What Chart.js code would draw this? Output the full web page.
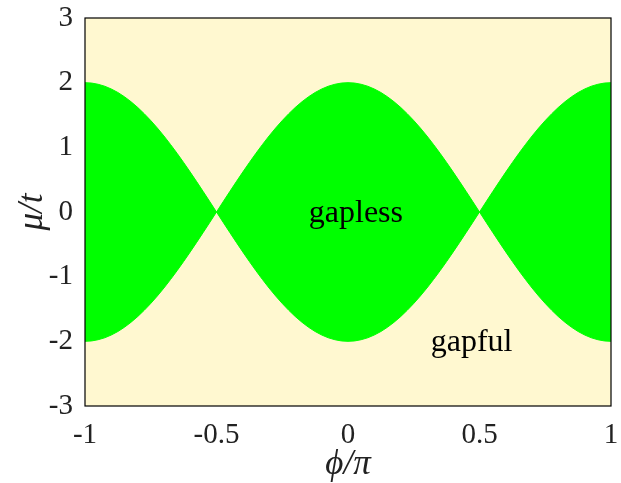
<!DOCTYPE html>
<html>
<head>
<meta charset="utf-8">
<script src="https://cdn.jsdelivr.net/npm/chart.js@4.4.1/dist/chart.umd.min.js"></script>
<style>
  html, body { margin: 0; padding: 0; background: #fff; }
  #wrap { width: 621px; height: 483px; }
</style>
</head>
<body>
<div id="wrap"><canvas id="c"></canvas></div>
<script>
(function () {
  'use strict';

  // phase phi/pi
  const phi = [
    -1, -0.975, -0.95, -0.925, -0.9, -0.875, -0.85, -0.825, -0.8, -0.775,
    -0.75, -0.725, -0.7, -0.675, -0.65, -0.625, -0.6, -0.575, -0.55, -0.525,
    -0.5, -0.475, -0.45, -0.425, -0.4, -0.375, -0.35, -0.325, -0.3, -0.275,
    -0.25, -0.225, -0.2, -0.175, -0.15, -0.125, -0.1, -0.075, -0.05, -0.025,
    0, 0.025, 0.05, 0.075, 0.1, 0.125, 0.15, 0.175, 0.2, 0.225,
    0.25, 0.275, 0.3, 0.325, 0.35, 0.375, 0.4, 0.425, 0.45, 0.475,
    0.5, 0.525, 0.55, 0.575, 0.6, 0.625, 0.65, 0.675, 0.7, 0.725,
    0.75, 0.775, 0.8, 0.825, 0.85, 0.875, 0.9, 0.925, 0.95, 0.975, 1
  ];
  // upper edge of the gapless band (mu/t)
  const muUpper = [
    2, 1.994, 1.975, 1.945, 1.902, 1.848, 1.782, 1.705, 1.618, 1.521,
    1.414, 1.299, 1.176, 1.045, 0.908, 0.765, 0.618, 0.467, 0.313, 0.157,
    0, 0.157, 0.313, 0.467, 0.618, 0.765, 0.908, 1.045, 1.176, 1.299,
    1.414, 1.521, 1.618, 1.705, 1.782, 1.848, 1.902, 1.945, 1.975, 1.994,
    2, 1.994, 1.975, 1.945, 1.902, 1.848, 1.782, 1.705, 1.618, 1.521,
    1.414, 1.299, 1.176, 1.045, 0.908, 0.765, 0.618, 0.467, 0.313, 0.157,
    0, 0.157, 0.313, 0.467, 0.618, 0.765, 0.908, 1.045, 1.176, 1.299,
    1.414, 1.521, 1.618, 1.705, 1.782, 1.848, 1.902, 1.945, 1.975, 1.994, 2
  ];
  // lower edge of the gapless band (mu/t)
  const muLower = [
    -2, -1.994, -1.975, -1.945, -1.902, -1.848, -1.782, -1.705, -1.618, -1.521,
    -1.414, -1.299, -1.176, -1.045, -0.908, -0.765, -0.618, -0.467, -0.313, -0.157,
    0, -0.157, -0.313, -0.467, -0.618, -0.765, -0.908, -1.045, -1.176, -1.299,
    -1.414, -1.521, -1.618, -1.705, -1.782, -1.848, -1.902, -1.945, -1.975, -1.994,
    -2, -1.994, -1.975, -1.945, -1.902, -1.848, -1.782, -1.705, -1.618, -1.521,
    -1.414, -1.299, -1.176, -1.045, -0.908, -0.765, -0.618, -0.467, -0.313, -0.157,
    0, -0.157, -0.313, -0.467, -0.618, -0.765, -0.908, -1.045, -1.176, -1.299,
    -1.414, -1.521, -1.618, -1.705, -1.782, -1.848, -1.902, -1.945, -1.975, -1.994, -2
  ];

  const xTicks = [-1, -0.5, 0, 0.5, 1];
  const yTicks = [-3, -2, -1, 0, 1, 2, 3];

  // region labels: [text, phi, mu]
  const regionLabels = [
    ['gapless', 0.03, -0.03],
    ['gapful', 0.47, -2.02]
  ];

  const GREEN = '#00ff00';
  const BG    = '#fff8d0';
  const SERIF = '"Liberation Serif", "Times New Roman", serif';

  function pts(ys) {
    return phi.map(function (x, i) { return { x: x, y: ys[i] }; });
  }

  const framePlugin = {
    id: 'frame',
    beforeDatasetsDraw: function (chart) {
      const a = chart.chartArea, ctx = chart.ctx;
      ctx.save();
      ctx.fillStyle = BG;
      ctx.fillRect(a.left, a.top, a.right - a.left, a.bottom - a.top);
      ctx.restore();
    },
    afterDatasetsDraw: function (chart) {
      const a = chart.chartArea, ctx = chart.ctx;
      const xs = chart.scales.x, ys = chart.scales.y;
      ctx.save();
      ctx.font = '32px ' + SERIF;
      ctx.fillStyle = '#000';
      ctx.textAlign = 'center';
      ctx.textBaseline = 'middle';
      regionLabels.forEach(function (l) {
        ctx.fillText(l[0], xs.getPixelForValue(l[1]), ys.getPixelForValue(l[2]));
      });
      ctx.strokeStyle = '#000';
      ctx.lineWidth = 1.2;
      ctx.strokeRect(a.left, a.top, a.right - a.left, a.bottom - a.top);
      ctx.restore();
    }
  };

  new Chart(document.getElementById('c'), {
    type: 'line',
    data: {
      datasets: [{
        data: pts(muUpper),
        borderColor: GREEN,
        backgroundColor: GREEN,
        borderWidth: 1,
        pointRadius: 0,
        fill: '+1'
      }, {
        data: pts(muLower),
        borderColor: GREEN,
        backgroundColor: GREEN,
        borderWidth: 1,
        pointRadius: 0,
        fill: false
      }]
    },
    options: {
      responsive: true,
      maintainAspectRatio: false,
      animation: false,
      layout: { padding: { top: 18, right: 10, left: 0, bottom: 0 } },
      plugins: { legend: { display: false }, tooltip: { enabled: false } },
      scales: {
        x: {
          type: 'linear',
          min: -1, max: 1,
          afterBuildTicks: function (s) { s.ticks = xTicks.map(function (v) { return { value: v }; }); },
          afterFit: function (s) {
            s.height = 77;
            s.paddingLeft = 0;
            s.paddingRight = 0;
          },
          grid: { display: false, drawTicks: false },
          border: { display: false },
          ticks: {
            padding: 12,
            maxRotation: 0,
            color: '#222',
            font: { family: SERIF, size: 29 },
            callback: function (v) { return String(v); }
          },
          title: {
            display: true,
            text: 'ϕ/π',
            color: '#222',
            padding: { top: 0, bottom: -3 },
            font: { family: SERIF, size: 35, style: 'italic' }
          }
        },
        y: {
          type: 'linear',
          min: -3, max: 3,
          afterBuildTicks: function (s) { s.ticks = yTicks.map(function (v) { return { value: v }; }); },
          afterFit: function (s) {
            s.width = 85;
            s.paddingTop = 0;
            s.paddingBottom = 0;
          },
          grid: { display: false, drawTicks: false },
          border: { display: false },
          ticks: {
            padding: 12,
            color: '#222',
            font: { family: SERIF, size: 29 },
            callback: function (v) { return String(v); }
          },
          title: {
            display: true,
            text: 'μ/t',
            color: '#222',
            padding: { top: 12, bottom: 0 },
            font: { family: SERIF, size: 35, style: 'italic' }
          }
        }
      }
    },
    plugins: [framePlugin]
  });
})();
</script>
</body>
</html>
